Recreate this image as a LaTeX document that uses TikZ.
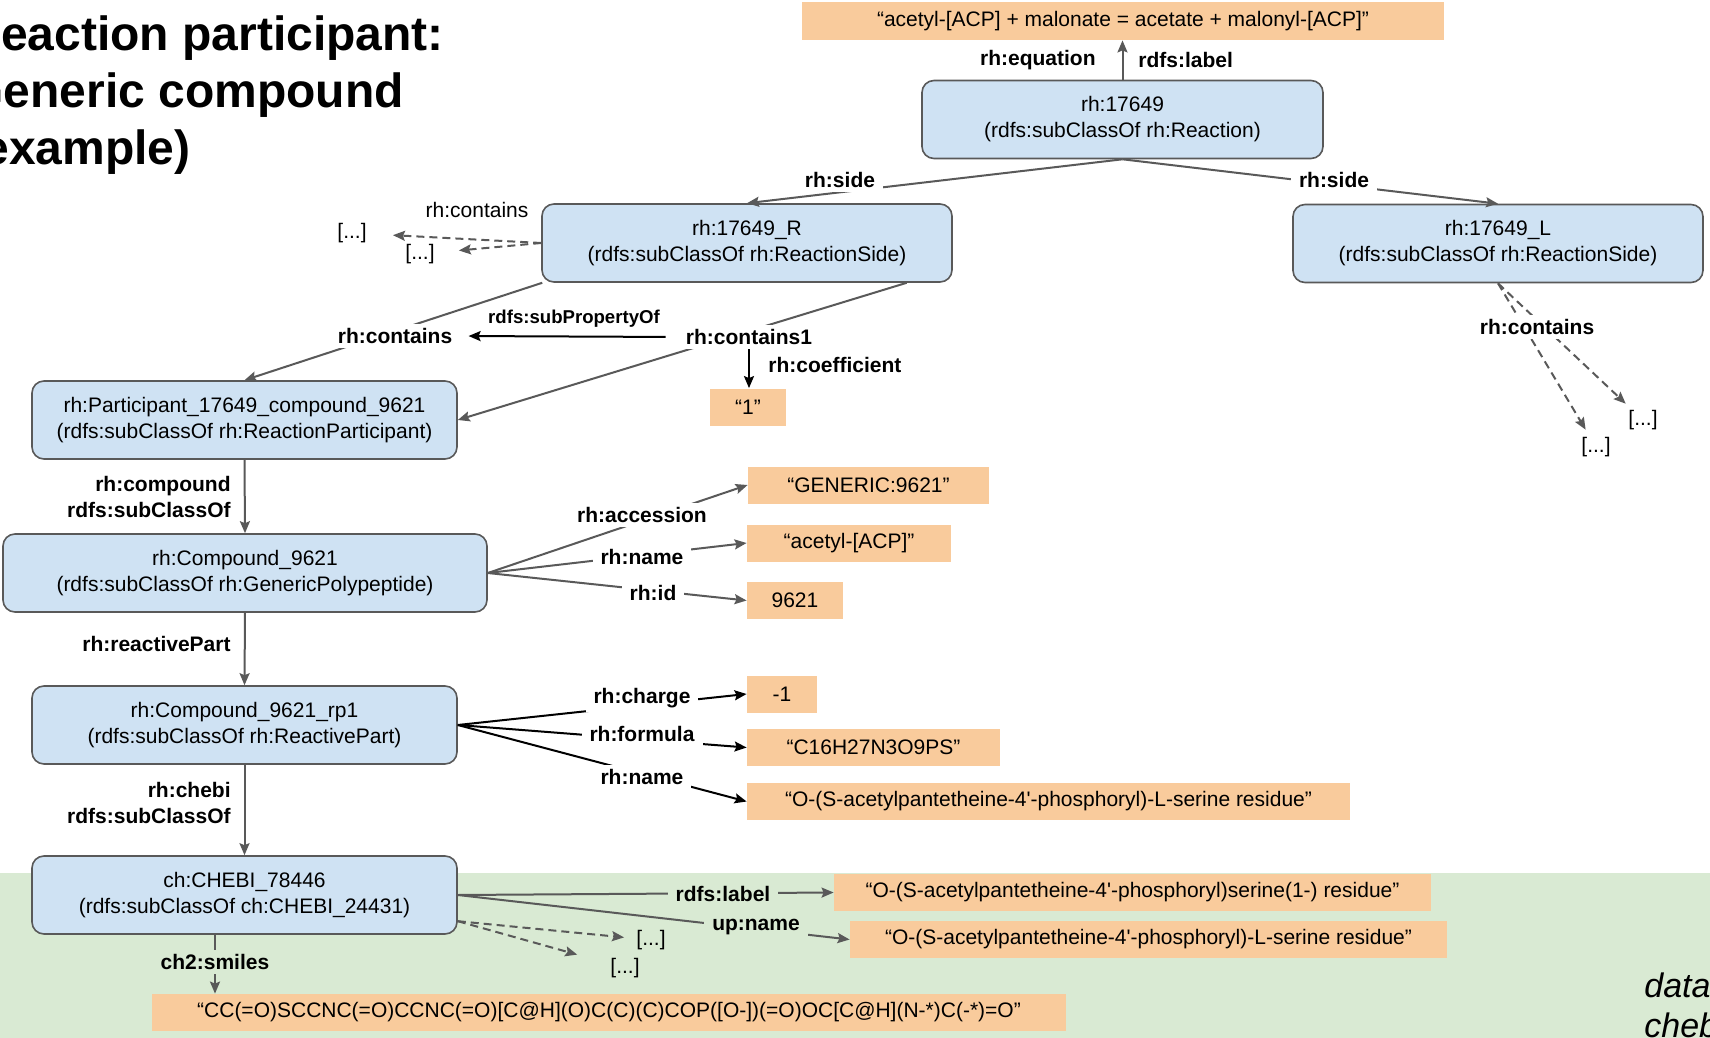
\documentclass[tikz,border=0pt]{standalone}
\usepackage{fontspec}
\setmainfont{Liberation Sans}
\usetikzlibrary{arrows.meta,calc}
\definecolor{boxblue}{HTML}{CFE2F3}
\definecolor{litorange}{HTML}{F9CB9C}
\definecolor{litgreen}{HTML}{D9EAD3}
\definecolor{edgegray}{HTML}{595959}
\begin{document}
\begin{tikzpicture}[x=0.5pt,y=-0.5pt,font=\fontsize{10.5}{13}\selectfont,
  cls/.style={draw=edgegray,line width=0.8pt,fill=boxblue,rounded corners=6pt,align=center,minimum height=39pt,inner sep=0pt},
  lit/.style={fill=litorange,minimum height=18.5pt,inner sep=0pt},
  prop/.style={font=\fontsize{10.5}{13}\selectfont\bfseries,inner xsep=4pt,inner ysep=2pt,align=right},
  propcut/.style={prop,fill=white},
  etc/.style={inner sep=1pt},
  arr/.style={draw=edgegray,line width=1pt,-{Stealth[length=6pt,width=5pt,inset=1pt]}},
  blk/.style={arr,draw=black},
  dsh/.style={arr,dash pattern=on 4pt off 2.5pt}]
\useasboundingbox (0,0) rectangle (1710,1038);
\fill[litgreen] (0,873) rectangle (1710,1038);
\node[anchor=west,inner sep=0pt,align=left,font=\fontsize{24}{28.5}\selectfont\bfseries] (title) at (-34,95.5) {Reaction participant:\\Generic compound\\(example)};
\node[anchor=base west,inner sep=0pt,font=\fontsize{17}{20}\selectfont\itshape] (src1) at (1644,997) {data};
\node[anchor=base west,inner sep=0pt,font=\fontsize{17}{20}\selectfont\itshape] (src2) at (1644,1037) {chebi};

\node[lit,minimum width=321pt,minimum height=19pt] (eq) at (1123,21) {“acetyl-[ACP] + malonate = acetate + malonyl-[ACP]”};
\node[cls,minimum width=200.5pt] (rxn) at (1122.5,119.5) {rh:17649\\(rdfs:subClassOf rh:Reaction)};
\node[cls,minimum width=205pt] (rside) at (747,243) {rh:17649\_R\\(rdfs:subClassOf rh:ReactionSide)};
\node[cls,minimum width=205pt] (lside) at (1498,243.5) {rh:17649\_L\\(rdfs:subClassOf rh:ReactionSide)};
\node[cls,minimum width=212.5pt] (part) at (244.5,420) {rh:Participant\_17649\_compound\_9621\\(rdfs:subClassOf rh:ReactionParticipant)};
\node[cls,minimum width=242pt] (comp) at (245,573) {rh:Compound\_9621\\(rdfs:subClassOf rh:GenericPolypeptide)};
\node[cls,minimum width=212.5pt] (rpart) at (244.5,725) {rh:Compound\_9621\_rp1\\(rdfs:subClassOf rh:ReactivePart)};
\node[cls,minimum width=212.5pt] (chebi) at (244.5,895) {ch:CHEBI\_78446\\(rdfs:subClassOf ch:CHEBI\_24431)};

\node[lit,minimum width=38pt] (coef) at (748,407) {“1”};
\node[lit,minimum width=120.5pt] (acc) at (868.5,485) {“GENERIC:9621”};
\node[lit,minimum width=102pt] (cname) at (849,543) {“acetyl-[ACP]”};
\node[lit,minimum width=48pt] (cid) at (795,600.5) {9621};
\node[lit,minimum width=35pt] (chg) at (782,694) {-1};
\node[lit,minimum width=126.5pt] (fml) at (873.5,747.5) {“C16H27N3O9PS”};
\node[lit,minimum width=301.5pt] (rpname) at (1048.5,801.5) {“O-(S-acetylpantetheine-4\textquotesingle-phosphoryl)-L-serine residue”};
\node[lit,minimum width=298.5pt] (clabel) at (1132.5,892.5) {“O-(S-acetylpantetheine-4\textquotesingle-phosphoryl)serine(1-) residue”};
\node[lit,minimum width=298.5pt] (cname2) at (1148.5,939.5) {“O-(S-acetylpantetheine-4\textquotesingle-phosphoryl)-L-serine residue”};
\node[lit,minimum width=457pt] (smiles) at (609,1012.5) {“CC(=O)SCCNC(=O)CCNC(=O)[C@H](O)C(C)(C)COP([O-])(=O)OC[C@H](N-*)C(-*)=O”};

\node[etc] (rd1) at (352,233) {[...]};
\node[etc] (rd2) at (420,254) {[...]};
\node[etc] (ld1) at (1643,420) {[...]};
\node[etc] (ld2) at (1596,447) {[...]};
\node[etc] (cd1) at (651,940) {[...]};
\node[etc] (cd2) at (625,968) {[...]};

\draw[arr] (rxn.north) -- (rxn.north |- eq.south);
\draw[arr] (rxn.south) -- (rside.north);
\draw[arr] (rxn.south) -- (lside.north);
\draw[dsh,shorten >=12pt] (rside.west) -- (rd1);
\draw[dsh,shorten >=11pt] (rside.west) -- (rd2);
\draw[dsh,shorten >=3pt] (lside.south) -- (ld1);
\draw[dsh,shorten >=3pt] (lside.south) -- (ld2);
\draw[arr] (rside.191) -- (part.north);
\draw[arr] (rside.-14.6) -- (part.east);
\draw[arr] (part.south) -- (comp.north);
\draw[arr] (comp.south) -- (rpart.north);
\draw[arr] (rpart.south) -- (chebi.north);
\draw[arr] (comp.east) -- (acc.west);
\draw[arr] (comp.east) -- (cname.west);
\draw[arr] (comp.east) -- (cid.west);
\draw[blk] (rpart.east) -- (chg.west);
\draw[blk] (rpart.east) -- (fml.west);
\draw[blk] (rpart.east) -- (rpname.west);
\draw[arr] (chebi.east) -- (clabel.west);
\draw[arr] (chebi.east) -- (cname2.west);
\draw[dsh,shorten >=5pt] (chebi.-7) -- (cd1);
\draw[dsh,shorten >=16pt] (chebi.-7) -- (cd2);
\coordinate (smtop) at ($(chebi.south)+(-29.5,0)$);
\draw[arr] (smtop) -- (smtop |- smiles.north);

\node[prop,anchor=east] (peq) at (1104,60) {rh:equation};
\node[prop,anchor=west] (plab) at (1130,60) {rdfs:label};
\node[propcut] (side1) at (840,180) {rh:side};
\node[propcut] (side2) at (1334,180) {rh:side};
\node (pcont0) at (477,210) {rh:contains};
\node[propcut] (pcont) at (395,336) {rh:contains};
\node[propcut] (pcont1) at (749,337) {rh:contains1};
\node[prop,font=\fontsize{9.3}{11}\selectfont\bfseries] (psub) at (574,319) {rdfs:subPropertyOf};
\node[prop,anchor=west] (pcoef) at (760,365) {rh:coefficient};
\node[propcut] (pcontl) at (1537,327) {rh:contains};
\node[prop,anchor=east] (pcomp) at (239,497) {rh:compound\\rdfs:subClassOf};
\node[prop,anchor=east] (preact) at (239,644) {rh:reactivePart};
\node[prop,anchor=east] (pchebi) at (239,802.5) {rh:chebi\\rdfs:subClassOf};
\node[propcut] (pacc) at (642,515) {rh:accession};
\node[propcut] (pname) at (642,557) {rh:name};
\node[propcut] (pid) at (653,593) {rh:id};
\node[propcut] (pchg) at (642,698) {rh:charge};
\node[propcut] (pfml) at (642,734) {rh:formula};
\node[propcut] (pname2) at (642,777) {rh:name};
\node[propcut,fill=litgreen] (plab2) at (723,894) {rdfs:label};
\node[propcut,fill=litgreen] (pup) at (756,927) {up:name};
\node[propcut,fill=litgreen] (psmi) at (215,962) {ch2:smiles};

\draw[blk,shorten <=6pt,shorten >=4pt] (pcont1.west) -- (pcont.east);
\draw[blk] (pcont1.south) -- (pcont1.south |- coef.north);
\end{tikzpicture}
\end{document}
